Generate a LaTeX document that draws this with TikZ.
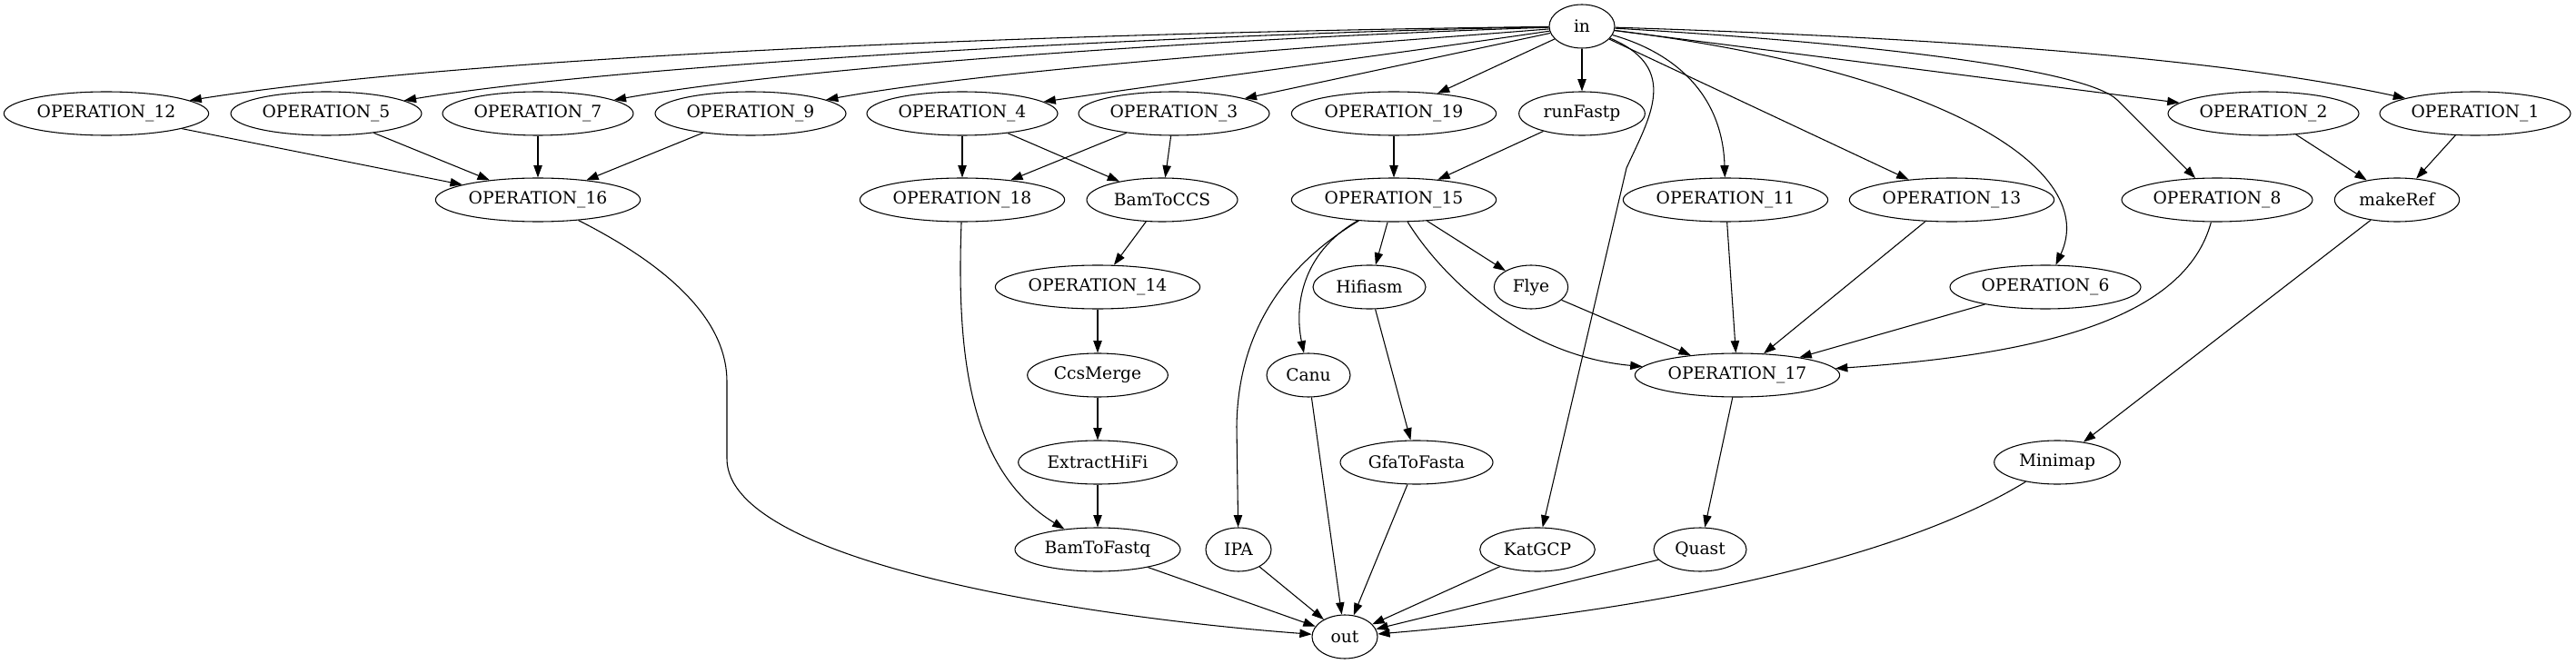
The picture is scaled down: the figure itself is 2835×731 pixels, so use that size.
\documentclass[tikz,border=0pt]{standalone}
\usepackage{fontspec}
\setmainfont{DejaVu Serif}
\usetikzlibrary{shapes.geometric,arrows.meta}
\begin{document}
\begin{tikzpicture}[x=0.75pt,y=-0.75pt,
  nd/.style={draw, ellipse, line width=0.8pt, inner sep=0pt, minimum height=36pt, minimum width=#1, font=\fontsize{14pt}{16pt}\selectfont},
  arr/.style={draw, line width=0.8pt, -{Triangle[length=10pt,width=7pt]}}]
\useasboundingbox (0,0) rectangle (2835,731);
% nodes
\node[nd=54pt] (in) at (1741,29) {in};
\node[nd=169pt] (op12) at (117,125) {OPERATION\_12};
\node[nd=157.5pt] (op5) at (359,125) {OPERATION\_5};
\node[nd=157.5pt] (op7) at (592,125) {OPERATION\_7};
\node[nd=157.5pt] (op9) at (826,125) {OPERATION\_9};
\node[nd=157.5pt] (op4) at (1059,125) {OPERATION\_4};
\node[nd=157.5pt] (op3) at (1292,125) {OPERATION\_3};
\node[nd=169pt] (op19) at (1534,125) {OPERATION\_19};
\node[nd=104pt] (runfastp) at (1741,125) {runFastp};
\node[nd=157.5pt] (op2) at (2491,125) {OPERATION\_2};
\node[nd=157.5pt] (op1) at (2724,125) {OPERATION\_1};
\node[nd=169pt] (op16) at (592,220) {OPERATION\_16};
\node[nd=169pt] (op18) at (1059,220) {OPERATION\_18};
\node[nd=124.5pt] (bamccs) at (1279,220) {BamToCCS};
\node[nd=169pt] (op15) at (1534,220) {OPERATION\_15};
\node[nd=169pt] (op11) at (1899,220) {OPERATION\_11};
\node[nd=169pt] (op13) at (2148,220) {OPERATION\_13};
\node[nd=157.5pt] (op8) at (2440,220) {OPERATION\_8};
\node[nd=103pt] (makeref) at (2638,220) {makeRef};
\node[nd=169pt] (op14) at (1208,316) {OPERATION\_14};
\node[nd=93pt] (hifiasm) at (1507,316) {Hifiasm};
\node[nd=61pt] (flye) at (1685,316) {Flye};
\node[nd=157.5pt] (op6) at (2251,316) {OPERATION\_6};
\node[nd=116pt] (ccsmerge) at (1208,413) {CcsMerge};
\node[nd=69pt] (canu) at (1440,413) {Canu};
\node[nd=169pt] (op17) at (1912,413) {OPERATION\_17};
\node[nd=131pt] (extract) at (1208,509) {ExtractHiFi};
\node[nd=126pt] (gfa) at (1559,509) {GfaToFasta};
\node[nd=104pt] (minimap) at (2264,509) {Minimap};
\node[nd=136.5pt] (bamfq) at (1208,605) {BamToFastq};
\node[nd=54pt] (ipa) at (1363,605) {IPA};
\node[nd=95pt] (katgcp) at (1692,605) {KatGCP};
\node[nd=76.5pt] (quast) at (1871,605) {Quast};
\node[nd=54pt] (out) at (1480,701) {out};
% helper coordinates
\coordinate (k1) at (1790,185);
\coordinate (k2) at (2330,110);
\coordinate (c1) at (800,420);
\coordinate (c2) at (800,505);
\coordinate (c3) at (1361,470);
% edges from in
\draw[arr] (in) .. controls (1300,34) and (560,55) .. (op12);
\draw[arr] (in) .. controls (1350,36) and (700,68) .. (op5);
\draw[arr] (in) .. controls (1400,40) and (900,70) .. (op7);
\draw[arr] (in) .. controls (1480,50) and (1100,75) .. (op9);
\draw[arr] (in) .. controls (1515,62) and (1327,86) .. (op4);
\draw[arr] (in) -- (op3);
\draw[arr] (in) -- (op19);
\draw[arr] (in) -- (runfastp);
\draw[arr] (in) .. controls (1850,75) and (1815,130) .. (k1) -- (katgcp);
\draw[arr] (in) .. controls (1850,60) and (1896,110) .. (op11);
\draw[arr] (in) -- (op13);
\draw[arr] (in) .. controls (2150,80) and (2310,190) .. (op6);
\draw[arr] (in) .. controls (2100,50) and (2300,80) .. (k2) -- (op8);
\draw[arr] (in) -- (op2);
\draw[arr] (in) .. controls (2150,42) and (2450,65) .. (op1);
% row 1 to row 2
\draw[arr] (op12) -- (op16);
\draw[arr] (op5) -- (op16);
\draw[arr] (op7) -- (op16);
\draw[arr] (op9) -- (op16);
\draw[arr] (op4) -- (op18);
\draw[arr] (op4) -- (bamccs);
\draw[arr] (op3) -- (op18);
\draw[arr] (op3) -- (bamccs);
\draw[arr] (op19) -- (op15);
\draw[arr] (runfastp) -- (op15);
\draw[arr] (op2) -- (makeref);
\draw[arr] (op1) -- (makeref);
% lower edges
\draw[arr] (op16) .. controls (750,300) and (800,360) .. (c1) -- (c2) .. controls (800,620) and (1200,680) .. (out);
\draw[arr] (op18) .. controls (1052,400) and (1070,520) .. (bamfq);
\draw[arr] (bamccs) -- (op14);
\draw[arr] (op14) -- (ccsmerge);
\draw[arr] (ccsmerge) -- (extract);
\draw[arr] (extract) -- (bamfq);
\draw[arr] (op15) .. controls (1400,300) and (1362,380) .. (c3) -- (ipa);
\draw[arr] (op15) .. controls (1430,280) and (1425,340) .. (canu);
\draw[arr] (op15) -- (hifiasm);
\draw[arr] (op15) -- (flye);
\draw[arr] (op15) .. controls (1590,310) and (1680,392) .. (op17);
\draw[arr] (hifiasm) -- (gfa);
\draw[arr] (flye) -- (op17);
\draw[arr] (op11) -- (op17);
\draw[arr] (op13) -- (op17);
\draw[arr] (op6) -- (op17);
\draw[arr] (op8) .. controls (2405,350) and (2250,390) .. (op17);
\draw[arr] (makeref) -- (minimap);
\draw[arr] (op17) -- (quast);
\draw[arr] (bamfq) -- (out);
\draw[arr] (ipa) -- (out);
\draw[arr] (canu) -- (out);
\draw[arr] (gfa) -- (out);
\draw[arr] (katgcp) -- (out);
\draw[arr] (quast) -- (out);
\draw[arr] (minimap) .. controls (2100,610) and (1850,670) .. (out);
\end{tikzpicture}
\end{document}
